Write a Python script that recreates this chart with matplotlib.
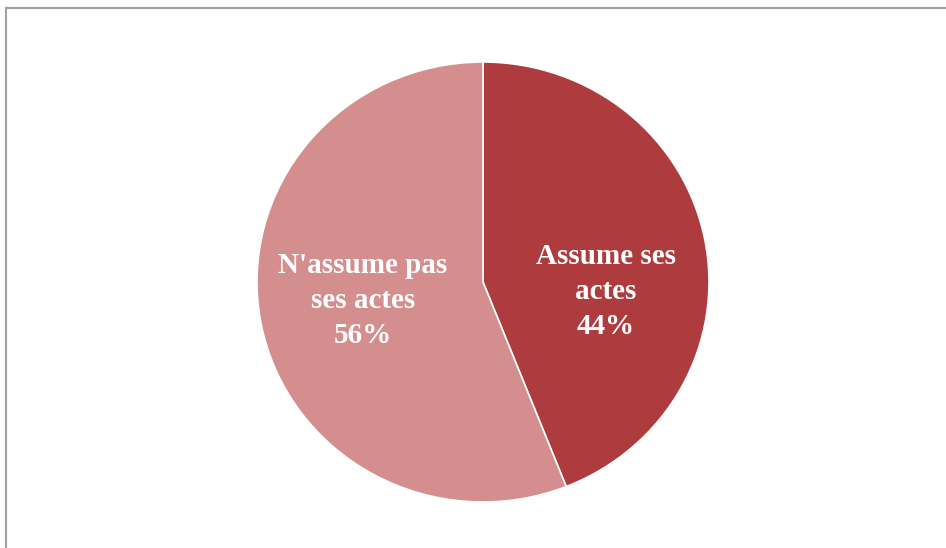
import matplotlib.pyplot as plt
from matplotlib.lines import Line2D

# donnees du camembert
categories = ["Assume ses\nactes", "N'assume pas\nses actes"]
valeurs = [44, 56]
couleurs = ['#AE3C3E', '#D48E8E']

fig = plt.figure(figsize=(9.46, 5.48), dpi=100)
fig.patch.set_facecolor('white')

# cadre gris (haut et gauche seulement visibles)
fig.add_artist(Line2D([6 / 946, 6 / 946], [0, 1 - 8 / 548], transform=fig.transFigure,
                      color='#A0A0A0', linewidth=1.5))
fig.add_artist(Line2D([6 / 946, 1], [1 - 8 / 548, 1 - 8 / 548], transform=fig.transFigure,
                      color='#A0A0A0', linewidth=1.5))

ax = fig.add_axes([257 / 946, 46 / 548, 452 / 946, 440 / 548])
wedges, _ = ax.pie(valeurs, colors=couleurs, startangle=90, counterclock=False,
                   radius=1, wedgeprops={'edgecolor': 'white', 'linewidth': 1.2})
ax.set_aspect('auto')
ax.set_xlim(-1, 1)
ax.set_ylim(-1, 1)
ax.axis('off')

positions = [(0.544, -0.045), (-0.531, -0.085)]
for nom, v, (x, y) in zip(categories, valeurs, positions):
    ax.text(x, y, f"{nom}\n{v}%", ha='center', va='center', color='white',
            fontsize=21, fontweight='bold', family='Liberation Serif', linespacing=1.38)

fig.savefig('out.png', dpi=100, facecolor='white')
